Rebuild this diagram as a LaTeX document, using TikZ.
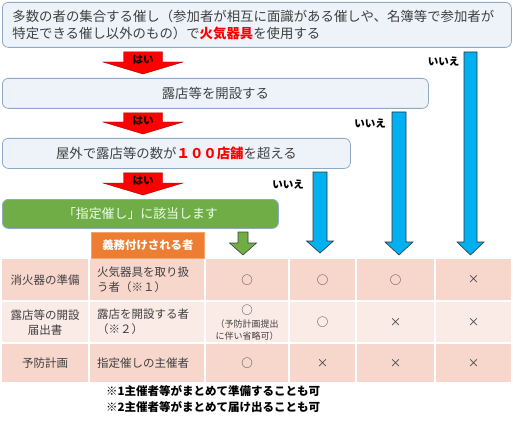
\documentclass[tikz,border=0pt]{standalone}
\usepackage{fontspec}
\setmainfont{Noto Sans CJK JP}
\usepackage{tikz}
\usetikzlibrary{positioning, calc}
\usepackage{xcolor}
\definecolor{boxFill}{HTML}{EEF3FA}
\definecolor{boxLine}{HTML}{8EA9C8}
\definecolor{textGray}{HTML}{404040}
\definecolor{yesRed}{HTML}{FF0000}
\definecolor{noBlue}{HTML}{00B0F0}
\definecolor{okGreen}{HTML}{70AD47}
\definecolor{dutyOrange}{HTML}{ED7D31}
\definecolor{cellDark}{HTML}{F7D6CC}
\definecolor{cellLight}{HTML}{FBEBE6}

% bloque-flecha: estilo, desde, hasta, medio ancho del cuerpo, medio ancho de la punta, largo de la punta
\newcommand{\blockarrow}[6]{%
  \draw[#1] ($(#2)+(-#4,0)$) -- ($(#2|-#3)+(-#4,-#6)$) -- ($(#2|-#3)+(-#5,-#6)$) -- (#3)
    -- ($(#2|-#3)+(#5,-#6)$) -- ($(#2|-#3)+(#4,-#6)$) -- ($(#2)+(#4,0)$) -- cycle;}

\begin{document}
\begin{tikzpicture}[x=1pt, y=-1pt,
    qbox/.style={draw=boxLine, line width=0.8pt, fill=boxFill, rounded corners=6pt,
      text=textGray, font=\fontsize{13.4pt}{17pt}\selectfont, anchor=north west},
    yeslbl/.style={font=\fontsize{10.5pt}{12pt}\selectfont\bfseries, text=black, inner sep=0pt},
    nolbl/.style={font=\fontsize{10.5pt}{12pt}\selectfont\bfseries, text=black, inner sep=0pt, anchor=east},
    yesarrow/.style={fill=yesRed, draw=red!60!black, line width=0.4pt},
    noarrow/.style={fill=noBlue, draw=black!80, line width=0.6pt},
    okarrow/.style={fill=okGreen, draw=black!75, line width=0.6pt},
    cell/.style={draw=none, inner sep=0pt, anchor=north west},
    celltext/.style={text=textGray, font=\fontsize{11.5pt}{15pt}\selectfont, align=center, inner sep=0pt},
    note/.style={font=\fontsize{11.5pt}{16pt}\selectfont\bfseries, text=black, anchor=west, inner sep=0pt}]
  \useasboundingbox (0,0) rectangle (513,422);

  % Preguntas
  \node[qbox, minimum width=509pt, minimum height=45pt, text width=489pt, inner xsep=10pt, align=left]
    (q1) at (2,2) {多数の者の集合する催し（参加者が相互に面識がある催しや、名簿等で参加者が\\
      特定できる催し以外のもの）で\textcolor{yesRed}{\bfseries 火気器具}を使用する};
  \node[qbox, minimum width=426pt, minimum height=30pt] (q2) at (2,78) {露店等を開設する};
  \node[qbox, minimum width=348pt, minimum height=30pt] (q3) at (2,138)
    {屋外で露店等の数が\textcolor{yesRed}{\bfseries １００店舗}を超える};
  \node[qbox, fill=okGreen, text=green!8!white, minimum width=276pt, minimum height=29pt,
    font=\fontsize{12.9pt}{16pt}\selectfont] (q4) at (2,199) {「指定催し」に該当します};
  \node[anchor=north west, fill=dutyOrange, draw=dutyOrange!70!white, line width=0.8pt,
    minimum width=113pt, minimum height=26pt, text=white, font=\fontsize{11.4pt}{14pt}\selectfont\bfseries]
    (duty) at (91,232) {義務付けされる者};

  % Flechas "はい"
  \coordinate (yesx) at (143,0);
  \coordinate (r1a) at ($(q1.south -| yesx)+(0,4)$);
  \coordinate (r1b) at ($(q2.north -| yesx)+(0,-4)$);
  \coordinate (r2a) at ($(q2.south -| yesx)+(0,4)$);
  \coordinate (r2b) at ($(q3.north -| yesx)+(0,-4)$);
  \coordinate (r3a) at ($(q3.south -| yesx)+(0,4)$);
  \coordinate (r3b) at ($(q4.north -| yesx)+(0,-4)$);
  \blockarrow{yesarrow}{r1a}{r1b}{19.5}{40}{12}
  \blockarrow{yesarrow}{r2a}{r2b}{19.5}{40}{12}
  \blockarrow{yesarrow}{r3a}{r3b}{19.5}{40}{12}
  \node[yeslbl] (h1) at ($(r1a)+(0,7.5)$) {はい};
  \node[yeslbl] (h2) at ($(r2a)+(0,7.5)$) {はい};
  \node[yeslbl] (h3) at ($(r3a)+(0,7.5)$) {はい};

  % Flechas "いいえ"
  \coordinate (n1a) at (470.5,52);  \coordinate (n1b) at (470.5,255);
  \coordinate (n2a) at (399,112);   \coordinate (n2b) at (399,255);
  \coordinate (n3a) at (320,172);   \coordinate (n3b) at (320,253);
  \blockarrow{noarrow}{n1a}{n1b}{6.5}{13.5}{13}
  \blockarrow{noarrow}{n2a}{n2b}{7}{14}{13}
  \blockarrow{noarrow}{n3a}{n3b}{7}{13.5}{12}
  \node[nolbl] (i1) at ($(n1a)+(-11,10)$) {いいえ};
  \node[nolbl] (i2) at ($(n2a)+(-13,12)$) {いいえ};
  \node[nolbl] (i3) at ($(n3a)+(-16,13)$) {いいえ};

  % Flecha verde
  \coordinate (g1a) at (243,232);  \coordinate (g1b) at (243,255);
  \blockarrow{okarrow}{g1a}{g1b}{5}{13.5}{12}

  % Tabla
  \foreach \r/\y/\h/\c in {1/259/41/cellDark, 2/302/40/cellLight, 3/344/38/cellDark}
    \foreach \k/\x/\w in {1/2/86, 2/90/114, 3/206/82, 4/290/65, 5/357/77, 6/436/75}
      \node[cell, fill=\c, minimum width=\w pt, minimum height=\h pt] (c\r\k) at (\x,\y) {};

  \node[celltext] (t11) at (c11) {消火器の準備};
  \node[celltext, anchor=west, align=left] (t12) at ($(c12.west)+(7,0)$) {火気器具を取り扱\\う者（※１）};
  \node[celltext] (t13) at (c13) {○};
  \node[celltext] (t14) at (c14) {○};
  \node[celltext] (t15) at (c15) {○};
  \node[celltext] (t16) at (c16) {×};

  \node[celltext] (t21) at (c21) {露店等の開設\\届出書};
  \node[celltext, anchor=west, align=left] (t22) at ($(c22.west)+(7,0)$) {露店を開設する者\\（※２）};
  \node[celltext] (t23) at (c23) {○\\[-2pt]{\fontsize{9pt}{11pt}\selectfont （予防計画提出}\\[-3pt]{\fontsize{9pt}{11pt}\selectfont に伴い省略可）}};
  \node[celltext] (t24) at (c24) {○};
  \node[celltext] (t25) at (c25) {×};
  \node[celltext] (t26) at (c26) {×};

  \node[celltext] (t31) at (c31) {予防計画};
  \node[celltext, anchor=west] (t32) at ($(c32.west)+(7,0)$) {指定催しの主催者};
  \node[celltext] (t33) at (c33) {○};
  \node[celltext] (t34) at (c34) {×};
  \node[celltext] (t35) at (c35) {×};
  \node[celltext] (t36) at (c36) {×};

  % Notas
  \node[note] (nota1) at (106,391) {※1主催者等がまとめて準備することも可};
  \node[note] (nota2) at (106,407) {※2主催者等がまとめて届け出ることも可};
\end{tikzpicture}
\end{document}
